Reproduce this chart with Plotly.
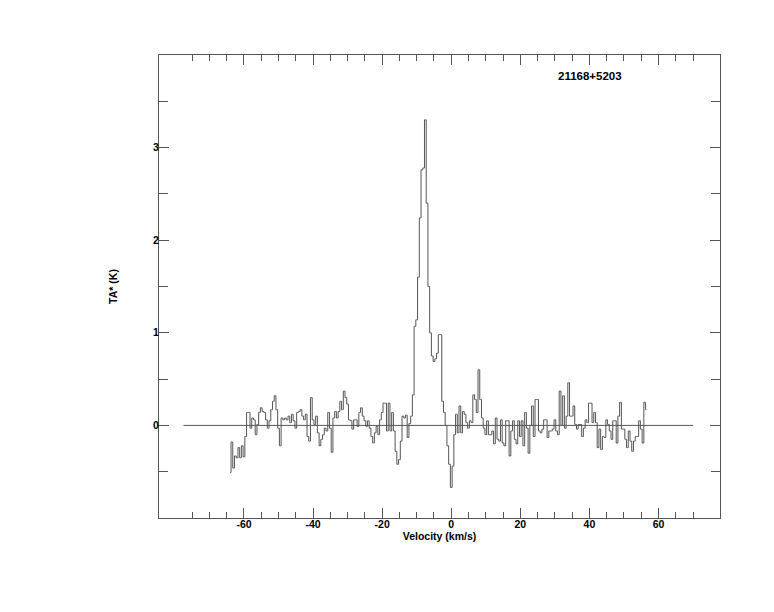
import numpy as np
import plotly.graph_objects as go

# ---------------- data ----------------
source_name = "21168+5203"
v_start = -64.0          # km/s, first channel
channel_width = 0.5      # km/s

# antenna temperature per channel (K), in velocity order
ta_part1 = [  # -64.0 .. -33.0
    -0.51, -0.18, -0.46, -0.33, -0.35, -0.24, -0.35, -0.22, -0.34, -0.12,
    0.14, 0.14, -0.03, 0.08, 0.06, -0.10, 0.01, 0.14, 0.19, 0.15,
    0.14, 0.06, -0.03, 0.05, 0.17, 0.26, 0.32, 0.17, -0.03, -0.22,
    0.08, 0.06, 0.08, 0.06, 0.10, 0.03, 0.12, 0.05, -0.03, 0.14,
    0.15, 0.17, 0.10, 0.06, 0.12, -0.12, -0.17, 0.30, 0.06, 0.01,
    0.10, -0.08, -0.22, -0.15, -0.10, -0.03, -0.06, 0.14, -0.03, -0.29,
    0.08, 0.15, 0.08,
]
ta_part2 = [  # -32.5 .. -14.0
    0.15, 0.26, 0.17, 0.37, 0.30, 0.23, 0.06, 0.05, -0.04, 0.06,
    0.06, -0.01, 0.14, 0.19, 0.10, 0.05, -0.01, 0.05, -0.03, -0.12,
    -0.19, -0.08, -0.01, -0.10, 0.06, 0.14, 0.24, 0.24, -0.06, 0.24,
    -0.06, 0.14, -0.06, -0.28, -0.42, -0.37, -0.17, 0.10,
]
ta_part3 = [  # -13.5 .. 9.5
    0.08, 0.11, -0.13, 0.02, 0.10, 0.33, 1.07, 1.14, 1.60, 2.24,
    2.76, 2.78, 3.30, 2.40, 1.50, 1.00, 0.75, 0.69, 0.72, 0.78,
    0.98, 0.98, 0.26, 0.14, 0.00, -0.22, -0.42, -0.67, -0.44, -0.10,
    0.12, -0.08, 0.21, -0.08, 0.15, 0.12, 0.03, -0.03, 0.05, 0.03,
    0.33, 0.28, 0.14, 0.60, 0.28, 0.08, -0.03,
]
ta_part4 = [  # 10.0 .. 28.0
    -0.10, 0.05, -0.10, -0.10, -0.06, -0.20, 0.08, -0.15, -0.17, 0.06,
    -0.19, -0.22, 0.05, 0.05, -0.33, -0.06, 0.05, -0.15, -0.20, 0.05,
    -0.12, 0.05, -0.22, 0.14, -0.03, -0.30, 0.00, 0.21, -0.12, 0.28,
    0.28, -0.06, -0.08, -0.04, 0.06, 0.06, -0.13,
]
ta_part5 = [  # 28.5 .. 56.5
    -0.06, -0.06, -0.04, 0.06, -0.06, -0.10, 0.37, 0.00, 0.32, -0.03,
    0.10, 0.46, 0.10, 0.10, 0.21, 0.01, -0.04, 0.01, 0.01, -0.12,
    -0.03, 0.06, 0.03, 0.24, 0.24, 0.03, 0.14, 0.03, -0.24, -0.04,
    -0.26, -0.12, -0.13, 0.06, 0.01, -0.06, -0.15, 0.05, 0.05, -0.19,
    0.10, 0.25, -0.04, -0.04, -0.15, -0.24, -0.06, -0.17, -0.28, -0.17,
    -0.12, -0.12, 0.05, -0.04, -0.19, 0.25, 0.17,
]
baseline_v = [-77.5, 70.0]
baseline_ta = [0.0, 0.0]

x_major_ticks = [-60, -40, -20, 0, 20, 40, 60]
x_major_labels = ["-60", "-40", "-20", "0", "20", "40", "60"]
x_minor_ticks = [-75, -70, -65, -55, -50, -45, -35, -30, -25, -15, -10, -5,
                 5, 10, 15, 25, 30, 35, 45, 50, 55, 65, 70]
y_major_ticks = [0, 1, 2, 3]
y_minor_ticks = [-0.5, 0.5, 1.5, 2.5, 3.5]

# ---------------- figure ----------------
ta = ta_part1 + ta_part2 + ta_part3 + ta_part4 + ta_part5
velocity = v_start + channel_width * np.arange(len(ta))

LINE = "#555555"
FONT = dict(family="Liberation Sans, Arial, sans-serif", size=10.5, color="black", weight="bold")

fig = go.Figure()
fig.add_trace(go.Scatter(x=baseline_v, y=baseline_ta, mode="lines",
                         line=dict(color=LINE, width=1), hoverinfo="skip"))
fig.add_trace(go.Scatter(x=velocity, y=ta, mode="lines",
                         line=dict(color=LINE, width=1, shape="hvh")))

fig.update_layout(
    width=766, height=604,
    margin=dict(l=151, r=54, t=47, b=94),
    paper_bgcolor="white", plot_bgcolor="white",
    showlegend=False,
    font=FONT,
    xaxis=dict(
        range=[-84.6, 77.8], tickmode="array",
        tickvals=x_major_ticks, ticktext=x_major_labels,
        ticks="inside", ticklen=10, tickwidth=1, tickcolor=LINE,
        minor=dict(tickvals=x_minor_ticks, ticks="inside", ticklen=6,
                   tickcolor=LINE, tickwidth=1, showgrid=False),
        showline=True, linecolor=LINE, linewidth=1, mirror="ticks",
        showgrid=False, zeroline=False, tickfont=FONT,
        ticklabelstandoff=-4,
        title=dict(text="Velocity (km/s)", font=FONT, standoff=0),
    ),
    yaxis=dict(
        range=[-1.0, 4.0], tickmode="array",
        tickvals=y_major_ticks, ticktext=[str(t) for t in y_major_ticks],
        ticks="inside", ticklen=10, tickwidth=1, tickcolor=LINE,
        minor=dict(tickvals=y_minor_ticks, ticks="inside", ticklen=9,
                   tickcolor=LINE, tickwidth=1, showgrid=False),
        showline=True, linecolor=LINE, linewidth=1, mirror="ticks",
        showgrid=False, zeroline=False, tickfont=FONT,
        ticklabelstandoff=-3,
        title=dict(text="TA* (K)", font=FONT, standoff=33),
    ),
    annotations=[dict(text=source_name, xref="paper", yref="paper",
                      x=0.768, y=0.955, xanchor="center", yanchor="middle",
                      showarrow=False,
                      font=dict(family="Liberation Sans, Arial, sans-serif",
                                size=11.5, color="black", weight="bold"))],
)

fig.write_html("out.html")
